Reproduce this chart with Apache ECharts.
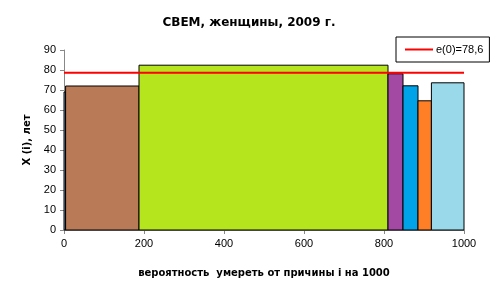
<!DOCTYPE html>
<html><head><meta charset="utf-8">
<script src="https://cdn.jsdelivr.net/npm/echarts@6/dist/echarts.min.js"></script>
<style>html,body{margin:0;padding:0;background:#fff}#c{width:494px;height:296px}</style>
</head><body><div id="c"></div>
<script>
const widths = [4, 183.5, 622.5, 37.5, 37.5, 33.5, 81.5];
const heights = [69, 72, 82.4, 78.1, 72.1, 64.6, 73.6];
const colors = ['#7092BE', '#B97A57', '#B5E61D', '#A349A4', '#00A2E8', '#FF7F27', '#99D9EA'];
const e0 = 78.6;
const e0Label = 'e(0)=78,6';

let acc = 0;
const rects = widths.map((w, i) => { const s = acc; acc += w; return [s, acc, heights[i], i]; });

const chart = echarts.init(document.getElementById('c'));
chart.setOption({
  animation: false,
  title: {
    text: 'СВЕМ, женщины, 2009 г.', left: 244, top: 12, textAlign: 'center',
    textStyle: { fontFamily: 'DejaVu Sans', fontSize: 12, fontWeight: 'bold', color: '#000' }
  },
  legend: {
    left: 396, top: 37, orient: 'horizontal',
    borderColor: '#000', borderWidth: 1, padding: [7, 6, 7, 9],
    itemWidth: 28, itemHeight: 2, itemGap: 4,
    textStyle: { fontFamily: 'Liberation Sans', fontSize: 11, color: '#000', padding: [0, 0, 0, -2] },
    data: [{ name: e0Label, icon: 'rect' }]
  },
  grid: { left: 64, right: 30, top: 50, bottom: 66, containLabel: false },
  xAxis: {
    type: 'value', min: 0, max: 1000, interval: 200,
    name: 'вероятность  умереть от причины i на 1000', nameLocation: 'middle', nameGap: 38,
    nameTextStyle: { fontFamily: 'DejaVu Sans', fontSize: 10, fontWeight: 'bold', color: '#000' },
    axisLine: { lineStyle: { color: '#888' } },
    axisTick: { show: true, length: 4, lineStyle: { color: '#888' } },
    axisLabel: { fontFamily: 'Liberation Sans', fontSize: 11, color: '#000', margin: 8, formatter: v => String(v) },
    splitLine: { show: false }
  },
  yAxis: {
    type: 'value', min: 0, max: 90, interval: 10,
    name: 'X (i), лет', nameLocation: 'middle', nameGap: 32, nameRotate: 90,
    nameTextStyle: { fontFamily: 'DejaVu Sans', fontSize: 10, fontWeight: 'bold', color: '#000' },
    axisLine: { show: true, lineStyle: { color: '#888' } },
    axisTick: { show: true, length: 4, lineStyle: { color: '#888' } },
    axisLabel: { fontFamily: 'Liberation Sans', fontSize: 11, color: '#000', margin: 8 },
    splitLine: { show: false }
  },
  series: [
    {
      type: 'custom', name: 'bars',
      renderItem: function (params, api) {
        const x0 = api.value(0), x1 = api.value(1), h = api.value(2), idx = api.value(3);
        const p0 = api.coord([x0, h]);
        const p1 = api.coord([x1, 0]);
        return {
          type: 'rect',
          shape: { x: p0[0], y: p0[1], width: p1[0] - p0[0], height: p1[1] - p0[1] },
          style: { fill: colors[idx], stroke: '#000', lineWidth: 1 }
        };
      },
      encode: { x: [0, 1], y: 2 },
      data: rects,
      z: 2
    },
    {
      type: 'line', name: e0Label, symbol: 'none',
      data: [[0, e0], [1000, e0]],
      lineStyle: { color: '#FF0000', width: 2 },
      itemStyle: { color: '#FF0000' },
      z: 5
    }
  ]
});
</script></body></html>
